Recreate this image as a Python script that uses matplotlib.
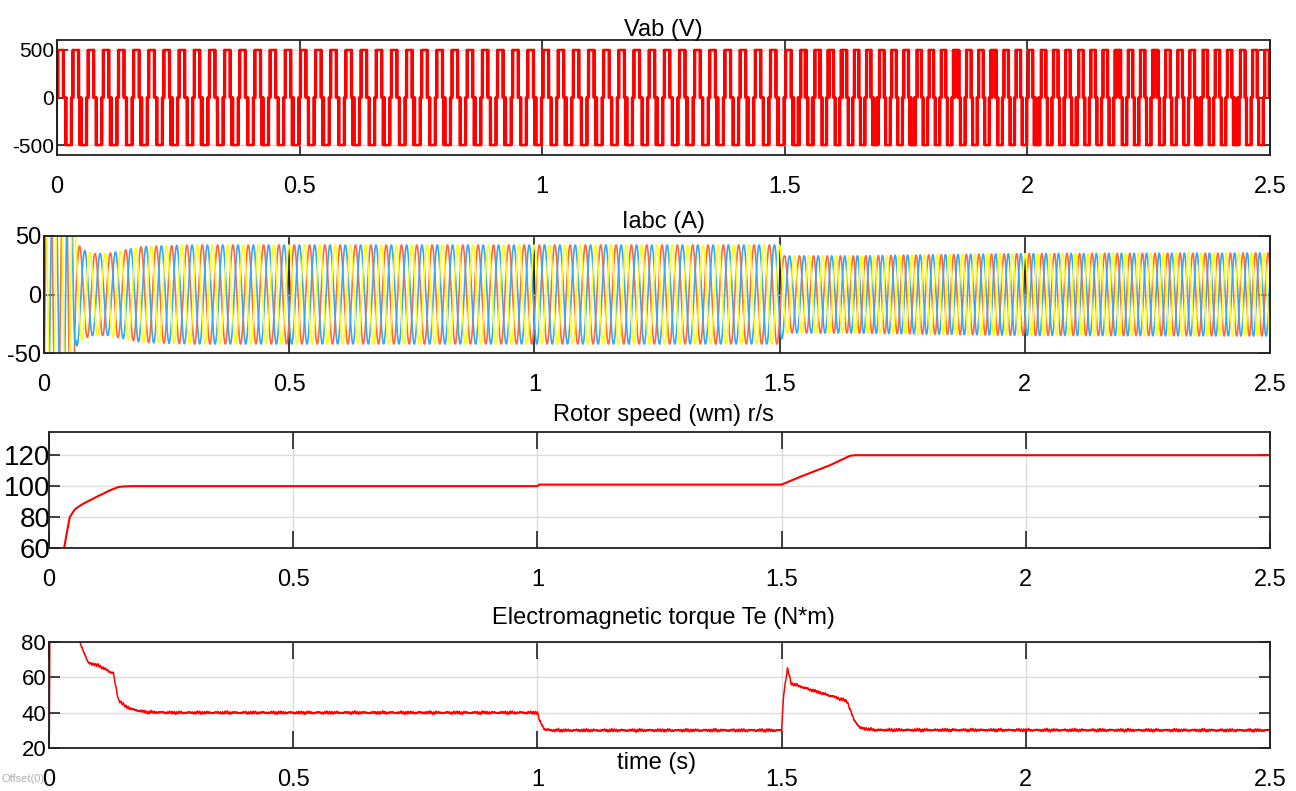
import numpy as np
import matplotlib.pyplot as plt

plt.rcParams['font.family'] = ['Liberation Sans Narrow', 'Liberation Sans', 'DejaVu Sans']
plt.rcParams['axes.unicode_minus'] = False

# shared time axis
x_ticks = [0, 0.5, 1, 1.5, 2, 2.5]
x_labels = ['0', '0.5', '1', '1.5', '2', '2.5']

# inverter: dc level and fundamental frequency schedule
vdc = 500
freq_t = [0, 1.5, 1.65, 2.5]
freq_hz = [32, 32, 39, 39]
carrier_hz = 480
mod_index = 1.35

# stator current peak envelope (A)
amp_t = [0, 0.055, 0.065, 0.08, 0.1, 0.13, 0.2, 0.3, 1.5, 1.51, 1.65, 2.0, 2.5]
amp_a = [160, 160, 45, 38, 35, 35, 41, 42.3, 42.3, 33, 33, 35, 35.5]

# rotor speed (rad/s)
speed_t = [0, 0.02, 0.031, 0.036, 0.0425, 0.053, 0.0665, 0.097, 0.125, 0.142, 0.152, 0.17,
           1.0, 1.004, 1.5, 1.51, 1.537, 1.599, 1.64, 1.65, 2.5]
speed_w = [0, 40, 60, 69, 80, 85, 88, 93, 97.3, 99.4, 99.8, 100,
           100, 101, 101, 102.3, 105.9, 113.5, 119.6, 120, 120]

# electromagnetic torque (N*m)
torque_t = [0, 0.003, 0.03, 0.063, 0.08, 0.104, 0.125, 0.132, 0.135, 0.142, 0.156, 0.173, 0.2, 0.25,
            1.0, 1.005, 1.015, 1.03, 1.5, 1.504, 1.512, 1.52, 1.568, 1.607, 1.634, 1.648, 1.661,
            1.69, 2.5]
torque_v = [0, 150, 120, 80, 68.3, 66.4, 63, 62.6, 57, 47.4, 43.6, 41.7, 40.3, 40,
            40, 35, 30.5, 30, 30, 50, 64.8, 56.5, 52.2, 49, 46.5, 36, 31.3,
            30.2, 30]

# dense time base for the switching waveform and currents
t = np.linspace(0, 2.5, 125001)
dt = t[1] - t[0]
theta = 2 * np.pi * np.cumsum(np.interp(t, freq_t, freq_hz)) * dt
carrier = np.abs(2 * ((carrier_hz * t) % 1) - 1)
s = np.sin(theta)
vab = vdc * np.sign(s) * (mod_index * np.abs(s) > carrier)

amp = np.interp(t, amp_t, amp_a)
lag = -0.5
ia = amp * np.sin(theta + lag)
ib = amp * np.sin(theta + lag - 2 * np.pi / 3)
ic = amp * np.sin(theta + lag + 2 * np.pi / 3)

# torque with small ripple
tr = np.linspace(0, 2.5, 5001)
ripple = (0.35 * np.sin(2 * np.pi * 192 * tr) + 0.3 * np.sin(2 * np.pi * 211 * tr + 0.7)
          + 0.25 * np.sin(2 * np.pi * 487 * tr + 1.9) + 0.2 * np.sin(2 * np.pi * 53 * tr + 0.3))
te = np.interp(tr, torque_t, torque_v) + ripple

W, H = 1296, 791
fig = plt.figure(figsize=(W / 100, H / 100), dpi=100)


def make_axes(left, top, right, bottom):
    return fig.add_axes([left / W, 1 - bottom / H, (right - left) / W, (bottom - top) / H])


def style(ax, yticks, ylim, ysize, xlen, ypad=2):
    ax.set_xlim(0, 2.5)
    ax.set_ylim(*ylim)
    ax.set_xticks(x_ticks)
    ax.set_xticklabels(x_labels)
    ax.set_yticks(yticks)
    ax.grid(True, color='#dcdcdc', lw=1)
    ax.tick_params(axis='x', direction='in', top=True, length=xlen, width=1.2,
                   color='#222222', labelsize=17, pad=15)
    ax.tick_params(axis='y', direction='in', right=True, length=8, width=1.2,
                   color='#222222', labelsize=ysize, pad=ypad)
    for sp in ax.spines.values():
        sp.set_linewidth(1.3)
        sp.set_color('#222222')


def title(text, y):
    fig.text(663 / W, 1 - y / H, text, ha='center', va='center', fontsize=17)


# Vab
ax1 = make_axes(57, 40, 1270, 155)
ax1.plot(t, vab, color='red', lw=1.8)
style(ax1, [-500, 0, 500], (-605, 605), 15, 60)
title('Vab (V)', 30)

# Iabc
ax2 = make_axes(44, 236, 1270, 353)
ax2.plot(t, ia, color='#ff6a3d', lw=1.2)
ax2.plot(t, ib, color='#36a9f2', lw=1.2)
ax2.plot(t, ic, color='#ffff10', lw=1.2)
style(ax2, [-50, 0, 50], (-50, 50), 17, 60)
title('Iabc (A)', 222)

# rotor speed
ax3 = make_axes(49, 432, 1270, 548)
ax3.plot(speed_t, speed_w, color='red', lw=1.5)
style(ax3, [60, 80, 100, 120], (60, 135), 20, 12, ypad=-1)
title('Rotor speed (wm) r/s', 415)

# electromagnetic torque
ax4 = make_axes(49, 642, 1270, 748)
ax4.plot(tr, te, color='red', lw=1.1)
style(ax4, [20, 40, 60, 80], (20, 80), 16, 12)
title('Electromagnetic torque Te (N*m)', 618)

fig.text(657 / W, 1 - 763 / H, 'time (s)', ha='center', va='center', fontsize=17)
fig.text(2 / W, 1 - 779 / H, 'Offset(0)', ha='left', va='center', fontsize=8, color='#b0b0b0')

fig.savefig('out.png', dpi=100)
